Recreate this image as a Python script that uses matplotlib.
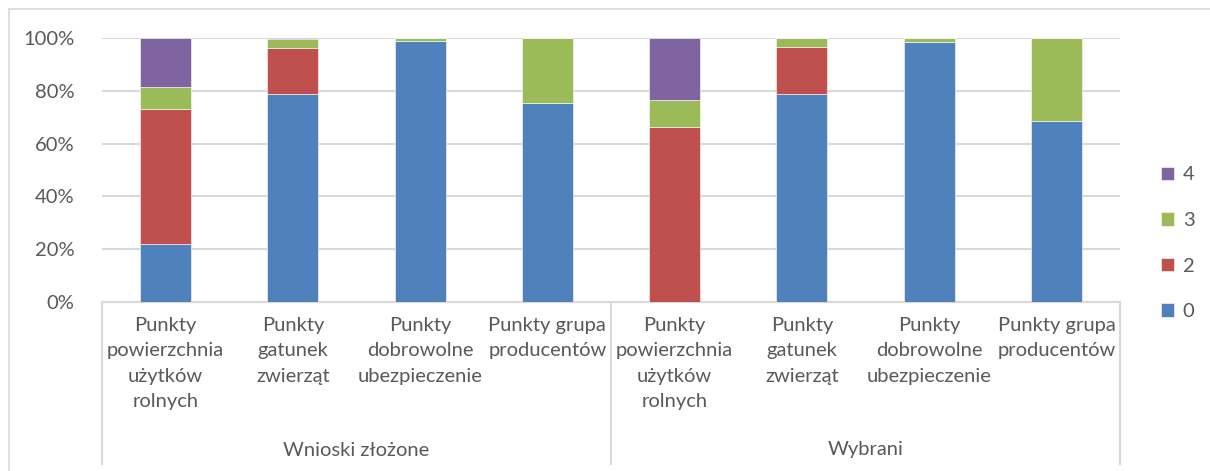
import numpy as np
import matplotlib.pyplot as plt
from matplotlib.patches import Rectangle

plt.rcParams['font.family'] = ['Lato', 'DejaVu Sans']

groups = ['Wnioski złożone', 'Wybrani']
categories = ['Punkty\npowierzchnia\nużytków\nrolnych',
              'Punkty\ngatunek\nzwierząt',
              'Punkty\ndobrowolne\nubezpieczenie',
              'Punkty grupa\nproducentów']

# shares in %, order: 4 categories of "Wnioski złożone", then 4 of "Wybrani"
s0 = [22.0, 78.8, 98.7, 75.2, 0.0, 78.9, 98.3, 68.4]
s2 = [51.1, 17.6, 0.0, 0.0, 66.1, 17.8, 0.0, 0.0]
s3 = [8.3, 3.3, 1.3, 24.8, 10.6, 3.3, 1.7, 31.6]
s4 = [18.6, 0.3, 0.0, 0.0, 23.3, 0.0, 0.0, 0.0]

series = [('0', s0, '#4f81bd'), ('2', s2, '#c0504d'),
          ('3', s3, '#9bbb59'), ('4', s4, '#8064a2')]

W, H = 1210, 471
fig = plt.figure(figsize=(W / 100, H / 100), dpi=100)
ax = fig.add_axes([102 / W, (H - 302) / H, 1018 / W, 264 / H])

x = np.arange(len(s0))
bottom = np.zeros(len(s0))
handles = []
for name, vals, col in series:
    vals = np.array(vals)
    b = ax.bar(x, vals, 0.4, bottom=bottom, color=col, edgecolor='white',
               linewidth=0.4, label=name, zorder=3)
    handles.append(b)
    bottom += vals

txt = '#595959'
grid = '#d9d9d9'
fs = 14.5
ax.set_xlim(-0.5, 7.5)
ax.set_ylim(0, 100)
ax.set_yticks(range(0, 101, 20))
ax.set_yticklabels(['{}%'.format(v) for v in range(0, 101, 20)], fontsize=fs, color=txt)
ax.tick_params(axis='y', length=0, pad=20)
ax.set_xticks([])
ax.grid(axis='y', color=grid, linewidth=1.5, zorder=0)
for sp in ['top', 'right', 'left']:
    ax.spines[sp].set_visible(False)
ax.spines['bottom'].set_color(grid)
ax.spines['bottom'].set_linewidth(1.5)

# category labels and group boxes
trans = ax.get_xaxis_transform()
ypx = lambda py: (302 - py) / 264.0
for i, xi in enumerate(x):
    ax.text(xi, ypx(317), categories[i % 4], transform=trans, ha='center', va='top',
            fontsize=fs, color=txt, linespacing=1.6)
for g, name in enumerate(groups):
    ax.text(g * 4 + 1.5, ypx(450), name, transform=trans, ha='center', va='center',
            fontsize=fs, color=txt)
for xv in [-0.5, 3.5, 7.5]:
    ax.plot([xv, xv], [0, ypx(464)], transform=trans, color=grid, linewidth=1.5,
            clip_on=False)

leg = ax.legend(handles[::-1], [s[0] for s in series][::-1], loc='center left',
                bbox_to_anchor=(1.022, 0.222), frameon=False, fontsize=fs,
                handlelength=0.65, handleheight=0.65, labelspacing=1.42,
                handletextpad=0.45)
for t in leg.get_texts():
    t.set_color(txt)

# chart area border
fig.patches.append(Rectangle((9 / W, -0.1), 1.2, (H - 9) / H + 0.1,
                             transform=fig.transFigure, fill=False,
                             edgecolor=grid, linewidth=1.2))

fig.savefig('out.png', dpi=100)
